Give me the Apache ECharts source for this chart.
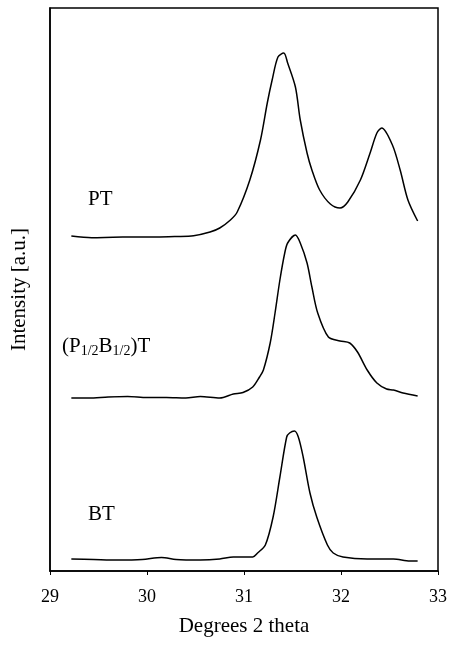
<!DOCTYPE html>
<html>
<head>
<meta charset="utf-8">
<script src="https://cdn.jsdelivr.net/npm/echarts@6/dist/echarts.min.js"></script>
<style>
  html, body { margin: 0; padding: 0; background: #fff; }
  #chart { width: 449px; height: 645px; }
</style>
</head>
<body>
<div id="chart"></div>
<script>
// 2 theta positions and intensities (a.u., above each trace's own baseline)
const ptTheta = [29.22, 29.43, 29.65, 29.85, 30.1, 30.3, 30.48, 30.65, 30.75, 30.86, 30.93, 31.06, 31.17, 31.24, 31.29, 31.35, 31.41, 31.45, 31.53, 31.58, 31.65, 31.7, 31.78, 31.89, 31.99, 32.07, 32.2, 32.3, 32.37, 32.42, 32.53, 32.61, 32.69, 32.79]
const ptInt = [0, -1.7, -1.2, -1, -1, -0.5, 0.3, 4, 8, 16, 24, 56, 96, 133, 156, 179, 183, 173, 149, 116, 83, 66, 46, 32, 28, 34, 56, 83, 103, 108, 91, 66, 36, 15]

const mixTheta = [29.22, 29.4, 29.6, 29.8, 30.0, 30.2, 30.4, 30.55, 30.75, 30.89, 30.99, 31.09, 31.16, 31.2, 31.27, 31.32, 31.37, 31.42, 31.45, 31.53, 31.58, 31.65, 31.7, 31.76, 31.87, 31.99, 32.09, 32.17, 32.27, 32.37, 32.47, 32.54, 32.64, 32.79]
const mixInt = [0, 0, 1, 1.5, 0.5, 0.5, 0, 1.5, 0, 4, 5.5, 11, 21, 28, 55, 85, 118, 145, 155, 163, 155, 135, 111, 85, 61, 57, 55, 46, 28, 15, 9, 8, 5, 2]

const btTheta = [29.22, 29.45, 29.7, 29.95, 30.15, 30.3, 30.55, 30.75, 30.89, 31.09, 31.14, 31.22, 31.3, 31.37, 31.44, 31.47, 31.52, 31.56, 31.61, 31.68, 31.75, 31.86, 31.92, 32.02, 32.27, 32.54, 32.71, 32.79]
const btInt = [0, -0.5, -1, -0.5, 1.5, -0.5, -1, 0, 2, 2, 6, 14, 42, 82, 122, 126, 128, 122, 102, 66, 42, 14, 6, 2, 0, 0, -2, -2]

// vertical offsets of the stacked traces
const ptOffset = 335
const mixOffset = 173
const btOffset = 12

const xTicks = [29, 30, 31, 32, 33]

const stack = (theta, vals, off) => theta.map((t, i) => [t, vals[i] + off])

const font = 'Liberation Serif'
const chart = echarts.init(document.getElementById('chart'))

const lineSeries = (name, data) => ({
  name,
  type: 'line',
  data,
  smooth: 0.3,
  showSymbol: false,
  lineStyle: { color: '#000', width: 1.5 },
  silent: true
})

chart.setOption({
  animation: false,
  grid: {
    left: 50, right: 11, top: 8, bottom: 74,
    outerBoundsMode: 'none',
    show: true, borderColor: '#000', borderWidth: 1.5
  },
  xAxis: {
    type: 'value',
    min: xTicks[0],
    max: xTicks[xTicks.length - 1],
    interval: 1,
    name: 'Degrees 2 theta',
    nameLocation: 'middle',
    nameGap: 45,
    nameTextStyle: { fontFamily: font, fontSize: 21, color: '#000' },
    axisLine: { lineStyle: { color: '#000', width: 1.5 } },
    axisTick: { inside: false, length: 4, lineStyle: { color: '#000' } },
    axisLabel: { fontFamily: font, fontSize: 18, color: '#000', margin: 17 },
    splitLine: { show: false }
  },
  yAxis: {
    type: 'value',
    min: 0,
    max: 563,
    name: 'Intensity [a.u.]',
    nameLocation: 'middle',
    nameGap: 20,
    nameTextStyle: { fontFamily: font, fontSize: 21, color: '#000' },
    axisLine: { show: true, lineStyle: { color: '#000', width: 1.5 } },
    axisTick: { show: false },
    axisLabel: { show: false },
    splitLine: { show: false }
  },
  graphic: [
    { type: 'text', left: 88, top: 189, style: { text: 'PT', fontFamily: font, fontSize: 21, fill: '#000' } },
    {
      type: 'text', left: 62, top: 336,
      style: {
        text: '(P{s|1/2}B{s|1/2})T',
        fontFamily: font, fontSize: 21, fill: '#000',
        rich: { s: { fontFamily: font, fontSize: 14, padding: [10, 0, 0, 0], verticalAlign: 'bottom' } }
      }
    },
    { type: 'text', left: 88, top: 504, style: { text: 'BT', fontFamily: font, fontSize: 21, fill: '#000' } }
  ],
  series: [
    lineSeries('PT', stack(ptTheta, ptInt, ptOffset)),
    lineSeries('(P1/2B1/2)T', stack(mixTheta, mixInt, mixOffset)),
    lineSeries('BT', stack(btTheta, btInt, btOffset))
  ]
})
</script>
</body>
</html>
